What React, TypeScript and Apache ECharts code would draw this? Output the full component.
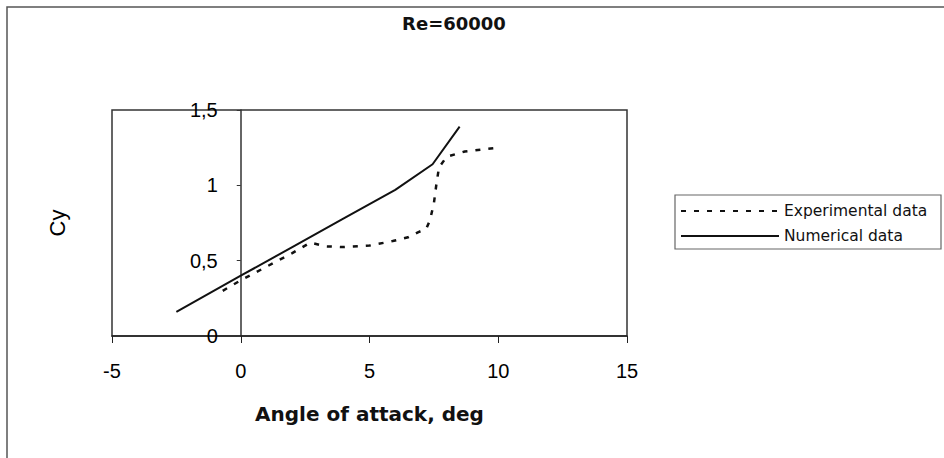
import React, { useEffect, useRef } from "react";
import * as echarts from "echarts";

const titleText = "Re=60000";
const xName = "Angle of attack, deg";
const yName = "Cy";
const seriesNames = ["Experimental data", "Numerical data"];

const expX = [-0.7, 0, 1, 2, 2.7, 3.3, 4, 5, 5.9, 6.5, 6.9, 7.2, 7.35, 7.5, 7.6, 7.7, 8.0, 8.7, 10];
const expY = [0.30, 0.37, 0.46, 0.55, 0.62, 0.595, 0.59, 0.60, 0.63, 0.655, 0.69, 0.71, 0.77, 0.88, 1.01, 1.12, 1.19, 1.225, 1.25];

const numX = [-2.5, 0, 2, 4, 6, 7.45, 8.5];
const numY = [0.16, 0.40, 0.59, 0.78, 0.97, 1.14, 1.39];

export default function App() {
  const ref = useRef<HTMLDivElement>(null);
  useEffect(() => {
    if (!ref.current) return;
    const chart = echarts.init(ref.current, null, { renderer: "svg" });
    const font = "'Liberation Sans', Arial, sans-serif";
    const wide = "'DejaVu Sans', sans-serif";
    chart.setOption({
      animation: false,
      backgroundColor: "#ffffff",
      title: {
        text: titleText,
        left: 449,
        textAlign: "center",
        top: 9,
        textStyle: { fontFamily: wide, fontSize: 18, fontWeight: "bold", color: "#111" },
      },
      legend: {
        left: 680,
        top: 203,
        orient: "vertical",
        padding: 0,
        itemWidth: 98,
        itemHeight: 14,
        itemGap: 9,
        itemStyle: { opacity: 0, borderWidth: 0 },
        textStyle: { fontFamily: wide, fontSize: 15.5, color: "#111" },
        data: seriesNames,
      },
      grid: {
        left: 112,
        right: 317,
        top: 110,
        bottom: 122,
        containLabel: false,
        outerBoundsMode: "none",
        show: true,
        borderColor: "#333",
        borderWidth: 1.5,
        backgroundColor: "transparent",
      },
      xAxis: {
        type: "value",
        min: -5,
        max: 15,
        interval: 5,
        name: xName,
        nameLocation: "middle",
        nameGap: 68,
        nameTextStyle: { fontFamily: wide, fontSize: 20, fontWeight: "bold", color: "#111" },
        axisLine: { onZero: false, lineStyle: { color: "#222", width: 1.5 } },
        axisTick: { show: true, length: 7, lineStyle: { color: "#222" } },
        axisLabel: { margin: 25, fontFamily: font, fontSize: 20, color: "#000" },
        splitLine: { show: false },
      },
      yAxis: {
        type: "value",
        min: 0,
        max: 1.5,
        interval: 0.5,
        offset: -128.75,
        name: yName,
        nameLocation: "middle",
        nameGap: 172,
        nameRotate: 90,
        nameTextStyle: { fontFamily: font, fontSize: 22, color: "#000" },
        axisLine: { onZero: false, lineStyle: { color: "#333", width: 1.5 } },
        axisTick: { show: true, length: 4, lineStyle: { color: "#333" } },
        axisLabel: {
          margin: 23,
          fontFamily: font,
          fontSize: 20,
          color: "#000",
          formatter: (v: number) => String(v).replace(".", ","),
        },
        splitLine: { show: false },
      },
      graphic: [
        {
          type: "rect",
          shape: { x: 7, y: 7, width: 1000, height: 500 },
          style: { fill: "none", stroke: "#555", lineWidth: 1.5 },
          silent: true,
        },
        {
          type: "rect",
          shape: { x: 675, y: 195, width: 266, height: 54 },
          style: { fill: "none", stroke: "#666", lineWidth: 1.2 },
          silent: true,
        },
      ],
      series: [
        {
          name: seriesNames[0],
          type: "line",
          data: expX.map((x, i) => [x, expY[i]]),
          symbol: "none",
          lineStyle: { color: "#111", width: 2.5, type: [5, 8] },
          itemStyle: { color: "#111" },
        },
        {
          name: seriesNames[1],
          type: "line",
          data: numX.map((x, i) => [x, numY[i]]),
          symbol: "none",
          lineStyle: { color: "#111", width: 2 },
          itemStyle: { color: "#111" },
        },
      ],
    });
    return () => chart.dispose();
  }, []);
  return <div ref={ref} style={{ position: "fixed", left: 0, top: 0, width: 944, height: 458 }} />;
}
